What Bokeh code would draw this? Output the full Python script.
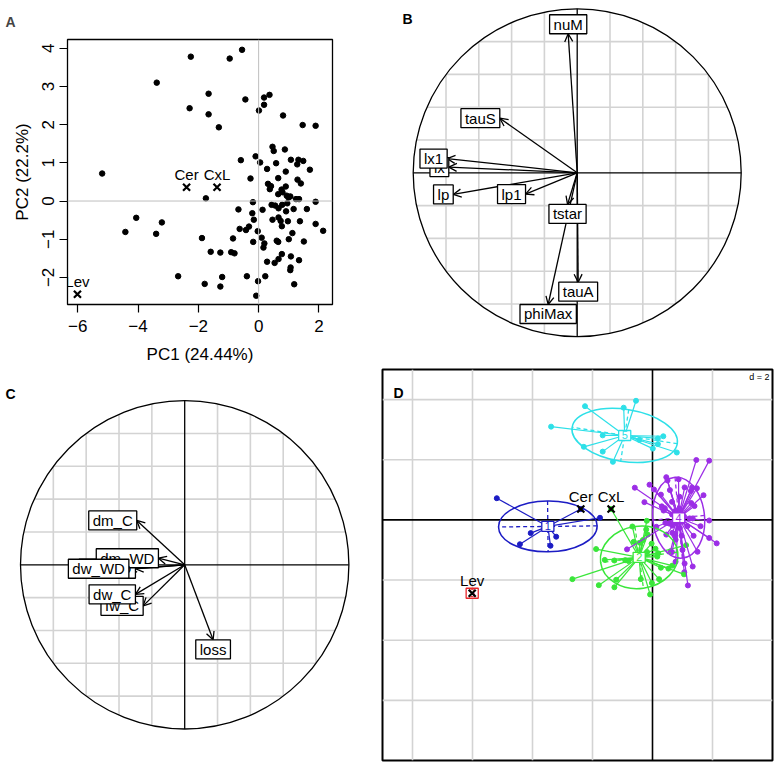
import numpy as np
from bokeh.plotting import figure
from bokeh.layouts import row, column
from bokeh.models import ColumnDataSource, Arrow, OpenHead, Range1d, FixedTicker, Label, Span
from bokeh.embed import file_html
from bokeh.resources import INLINE
from bokeh.core.properties import value

FONT = "Liberation Sans"

# ---------------- data: PCA scores (panels A and D) ----------------
pc1 = [-0.55, -2.25, -0.96, -3.38, -1.66, -0.44, 0.36, 0.18, 0.18, 0.01, -2.29, -1.66, 0.81, -1.32,
       1.46, 1.89, 0.46, 0.50, 0.87, -0.10, -0.59, 0.05, 0.58, 1.07, 1.32, 1.48, 1.28, 1.70, 0.28, 0.65,
       0.90, 1.29, 1.40, -0.27,
       -5.19, 0.31, 0.41, 0.37, 0.76, 0.90, 0.79, 0.93, 0.99, 1.05, 1.24, 1.34, 0.65, -1.75, -0.19, 1.89,
       -0.67, 0.13, 0.43, 0.55, 0.78, 0.95, 0.66, 0.91, 1.16, 1.60, -0.21, -0.16, 0.46, 0.66, 0.73, 0.97,
       1.37, 1.89, 2.14, -4.06, -3.21, -4.42, -3.40, -0.63, -0.42, -0.32, -0.03, 0.77, 1.12, 1.00, 1.50,
       0.10, -0.18, 0.19, 0.16, 0.60, 0.65, -0.85, -1.88, -1.59, -1.27, -0.91, -0.80, 0.28, 0.53, 0.66,
       0.77, 1.07, 1.34, 1.06, 1.05, 1.18, -2.67, -1.79, -1.27, -1.21, -0.39, 0.22, -0.02, -0.08]
pc2 = [3.96, 3.78, 3.73, 3.10, 2.81, 2.66, 2.78, 2.71, 2.52, 2.37, 2.43, 2.27, 2.24, 1.93,
       1.99, 1.97, 1.42, 1.31, 1.35, 1.17, 1.07, 1.01, 0.99, 1.08, 1.08, 1.05, 0.96, 0.82, 0.84, 0.60,
       0.77, 0.56, 0.46, 0.59,
       0.72, 0.45, 0.39, 0.31, 0.30, 0.38, 0.23, 0.14, 0.09, 0.12, 0.05, 0.05, 0.18, 0.07, -0.03, -0.02,
       -0.22, -0.23, -0.10, -0.12, -0.10, -0.06, -0.19, -0.27, -0.21, -0.21, -0.32, -0.49, -0.49, -0.43,
       -0.52, -0.53, -0.53, -0.60, -0.78, -0.44, -0.56, -0.81, -0.86, -0.73, -0.76, -0.67, -0.79, -0.66,
       -0.84, -1.00, -1.06, -0.96, -1.07, -1.11, -1.22, -1.04, -1.07, -0.98, -0.97, -1.33, -1.35, -1.34,
       -1.37, -1.59, -1.62, -1.52, -1.39, -1.45, -1.55, -1.74, -1.81, -2.18, -1.97, -2.17, -2.24, -1.99,
       -1.97, -1.97, -2.10, -2.48]
cluster = [5, 5, 5, 5, 5, 5, 5, 5, 5, 5, 5, 5, 5, 5,
           4, 4, 4, 4, 4, 4, 4, 4, 4, 4, 4, 4, 4, 4, 4, 4, 4, 4, 4, 4,
           1, 4, 4, 4, 4, 4, 4, 4, 4, 4, 4, 4, 4, 1, 2, 4,
           2, 4, 4, 4, 4, 4, 4, 4, 4, 4, 2, 2, 4, 4, 4, 4,
           4, 4, 4, 1, 1, 1, 1, 2, 2, 2, 2, 4,
           2, 4, 4, 2, 2, 2, 2, 4, 4, 4, 2, 2, 2, 2,
           2, 2, 2, 2, 4, 4, 4, 4, 2, 4, 2, 2, 2, 2,
           2, 2, 2, 2]

ref_names = ["Cer", "CxL", "Lev"]
ref_pc1 = [-2.39, -1.38, -6.01]
ref_pc2 = [0.36, 0.36, -2.44]
ref_cluster = [1, 2, 3]

pc1_ticks = [-6, -4, -2, 0, 2]
pc2_ticks = [-2, -1, 0, 1, 2, 3, 4]
pc1_label = "PC1 (24.44%)"
pc2_label = "PC2 (22.2%)"

# ---------------- data: correlation circle B ----------------
b_vars = ["lx", "lx1", "lp", "lp1", "tauS", "nuM", "tstar", "tauA", "phiMax"]
b_x = [-0.783, -0.793, -0.756, -0.315, -0.472, -0.055, -0.059, 0.006, -0.177]
b_y = [0.035, 0.087, -0.132, -0.130, 0.333, 0.848, -0.193, -0.667, -0.803]

# ---------------- data: correlation circle C ----------------
c_vars = ["fw_C", "dw_C", "dm_C", "fw_WD", "dm_WD", "dw_WD", "loss"]
c_x = [-0.253, -0.300, -0.292, -0.300, -0.160, -0.340, 0.173]
c_y = [-0.250, -0.180, 0.270, -0.024, 0.040, -0.024, -0.457]

# ---------------- classes (panel D) ----------------
class_ids = [1, 2, 3, 4, 5]
class_colors = ["#1c1cc4", "#3ae63a", "#e8262a", "#9c2ee6", "#2ee0e8"]

corr_grid = [-0.8, -0.6, -0.4, -0.2, 0.2, 0.4, 0.6, 0.8]
d_grid_x = [-8, -6, -4, -2, 2]
d_grid_y = [-6, -4, -2, 2, 4]


def panel_letter(p, x, y, dx, dy, letter):
    p.add_layout(Label(x=x, y=y, x_offset=dx, y_offset=dy, text=letter, text_font=FONT,
                       text_font_size="14px", text_font_style="bold", text_color="black",
                       text_align="left", text_baseline="alphabetic"))


# ================= Panel A =================
pA = figure(width=378, height=366, x_range=Range1d(-6.34, 2.45), y_range=Range1d(-2.71, 4.23),
            output_backend="svg", toolbar_location=None, frame_align=False,
            min_border_left=67, min_border_right=46, min_border_top=39, min_border_bottom=62)
pA.grid.visible = False
pA.outline_line_color = "black"
pA.outline_line_width = 1.3
pA.xaxis.ticker = FixedTicker(ticks=pc1_ticks)
pA.yaxis.ticker = FixedTicker(ticks=pc2_ticks)
for ax in (pA.xaxis[0], pA.yaxis[0]):
    ax.axis_line_color = None
    ax.major_tick_out = 8
    ax.major_tick_in = 0
    ax.minor_tick_line_color = None
    ax.major_tick_line_color = "black"
    ax.major_tick_line_width = 1.2
    ax.major_label_text_font = FONT
    ax.major_label_text_font_size = "17px"
    ax.major_label_text_color = "black"
    ax.axis_label_text_font = FONT
    ax.axis_label_text_font_size = "17px"
    ax.axis_label_text_font_style = "normal"
    ax.axis_label_text_color = "black"
pA.xaxis.axis_label = pc1_label
pA.yaxis.axis_label = pc2_label
pA.xaxis.major_label_standoff = 7
pA.yaxis.major_label_standoff = 5
pA.xaxis.axis_label_standoff = 10
pA.yaxis.axis_label_standoff = 8
pA.yaxis.major_label_orientation = "vertical"
pA.title.text = "A"
pA.title.align = "left"
pA.title.offset = -62
pA.title.text_font = FONT
pA.title.text_font_size = "14px"
pA.title.text_font_style = "bold"
pA.title.standoff = 19

pA.scatter(pc1, pc2, size=5.5, color="black")
pA.add_layout(Span(location=0, dimension="height", line_color="#bebebe", line_width=1))
pA.add_layout(Span(location=0, dimension="width", line_color="#bebebe", line_width=1))
pA.scatter(ref_pc1, ref_pc2, marker="x", size=10, line_width=2.2, line_color="black")
pA.text(ref_pc1, ref_pc2, text=ref_names, text_font=value(FONT), text_font_size="15px",
        text_align="center", text_baseline="middle", y_offset=-13, text_color="black")


# ================= correlation circles =================
def circ_anchor(x, y):
    if x > y and x > -y:
        return "center_left"
    if x > y and x <= -y:
        return "top_center"
    if x <= y and x <= -y:
        return "center_right"
    return "bottom_center"


def corr_fig(width, height, xr, yr, vx, vy, names):
    p = figure(width=width, height=height, x_range=Range1d(*xr), y_range=Range1d(*yr),
               output_backend="svg", toolbar_location=None, frame_align=False,
               x_axis_location=None, y_axis_location=None, min_border=0)
    p.min_border_left = 0
    p.min_border_right = 0
    p.min_border_top = 0
    p.min_border_bottom = 0
    p.grid.visible = False
    p.outline_line_color = None
    g = np.array(corr_grid)
    h = np.sqrt(1 - g ** 2)
    p.segment(x0=g, y0=-h, x1=g, y1=h, line_color="#d3d3d3", line_width=1.6, level="image")
    p.segment(x0=-h, y0=g, x1=h, y1=g, line_color="#d3d3d3", line_width=1.6, level="image")
    p.segment(x0=[-1, 0], y0=[0, -1], x1=[1, 0], y1=[0, 1], line_color="black",
              line_width=1.3, level="image")
    p.circle(x=[0], y=[0], radius=1, fill_color=None, line_color="black", line_width=1.3,
             level="image")
    n = len(vx)
    src = ColumnDataSource(dict(x0=[0] * n, y0=[0] * n, x1=vx, y1=vy))
    p.add_layout(Arrow(end=OpenHead(size=8, line_width=1.3, line_color="black"),
                       x_start="x0", y_start="y0", x_end="x1", y_end="y1", source=src,
                       line_width=1.3, line_color="black", level="underlay"))
    lsrc = ColumnDataSource(dict(x=vx, y=vy, t=names,
                                 a=[circ_anchor(a, b) for a, b in zip(vx, vy)]))
    p.text(x="x", y="y", text="t", anchor="a", source=lsrc, text_font=value(FONT),
           text_font_size="15px", text_color="black", text_align="center",
           text_baseline="middle", background_fill_color="white",
           border_line_color="black", border_line_width=1.3, padding=dict(x=4, y=1))
    return p


pB = corr_fig(399, 366, (-1.2116, 1.2213), (-1.1811, 1.0506), b_x, b_y, b_vars)
panel_letter(pB, -1.2116, 1.0506, 24, -18, "B")

pC = corr_fig(378, 399, (-1.1218, 1.1803), (-1.2223, 1.2077), c_x, c_y, c_vars)
panel_letter(pC, -1.1218, 1.2077, 5, -27, "C")

# ================= Panel D =================
pD = figure(width=399, height=399, x_range=Range1d(-9, 4), y_range=Range1d(-8, 5),
            output_backend="svg", toolbar_location=None, frame_align=False,
            x_axis_location=None, y_axis_location=None,
            min_border_left=4, min_border_right=5, min_border_top=3, min_border_bottom=5)
pD.grid.visible = False
pD.outline_line_color = "black"
pD.outline_line_width = 2
gx = np.array(d_grid_x, dtype=float)
gy = np.array(d_grid_y, dtype=float)
pD.segment(x0=gx, y0=[-8] * len(gx), x1=gx, y1=[5] * len(gx), line_color="#d3d3d3", line_width=1.6)
pD.segment(x0=[-9] * len(gy), y0=gy, x1=[4] * len(gy), y1=gy, line_color="#d3d3d3", line_width=1.6)
pD.segment(x0=[-9, 0], y0=[0, -8], x1=[4, 0], y1=[0, 5], line_color="black", line_width=1.6)

allx = np.array(pc1 + ref_pc1)
ally = np.array(pc2 + ref_pc2)
allc = np.array(cluster + ref_cluster)
col_of = dict(zip(class_ids, class_colors))

# points
pD.scatter(allx, ally, size=5, color=[col_of[c] for c in allc])

centers = {}
for k in class_ids:
    m = allc == k
    centers[k] = (allx[m].mean(), ally[m].mean())

# stars
for k in class_ids:
    m = allc == k
    cx, cy = centers[k]
    pD.segment(x0=[cx] * m.sum(), y0=[cy] * m.sum(), x1=allx[m], y1=ally[m],
               line_color=col_of[k], line_width=1.2)

# ellipses (1.5 sd) with their axes
for k in class_ids:
    m = allc == k
    if m.sum() < 2:
        continue
    cx, cy = centers[k]
    cov = np.cov(np.vstack([allx[m], ally[m]]), bias=True)
    vals, vecs = np.linalg.eigh(cov)
    a = 1.5 * np.sqrt(max(vals[1], 0))
    b = 1.5 * np.sqrt(max(vals[0], 0))
    u = vecs[:, 1]
    v = vecs[:, 0]
    ang = np.arctan2(u[1], u[0])
    pD.ellipse(x=[cx], y=[cy], width=[2 * a], height=[2 * b], angle=[ang],
               fill_color=None, line_color=col_of[k], line_width=1.5)
    pD.segment(x0=[cx - a * u[0], cx - b * v[0]], y0=[cy - a * u[1], cy - b * v[1]],
               x1=[cx + a * u[0], cx + b * v[0]], y1=[cy + a * u[1], cy + b * v[1]],
               line_color=col_of[k], line_width=1.3, line_dash="4 3")

# class labels
pD.text(x=[centers[k][0] for k in class_ids], y=[centers[k][1] for k in class_ids],
        text=[str(k) for k in class_ids], text_color=class_colors, border_line_color=class_colors,
        text_font=value(FONT), text_font_size="11px", text_align="center", text_baseline="middle",
        anchor="center", background_fill_color="white", border_line_width=1.3,
        padding=dict(x=3, y=1))

# reference lines
pD.scatter(ref_pc1, ref_pc2, marker="x", size=10, line_width=2.2, line_color="black")
pD.text(ref_pc1, ref_pc2, text=ref_names, text_font=value(FONT), text_font_size="15px",
        text_align="center", text_baseline="middle", y_offset=-13, text_color="black")

pD.add_layout(Label(x=4, y=5, x_offset=-3, y_offset=-2, text="d = 2", text_font=FONT,
                    text_font_size="9px", text_align="right", text_baseline="top",
                    background_fill_color="white", text_color="black"))
panel_letter(pD, -9, 5, 11, -23, "D")

layout = column(row(pA, pB), row(pC, pD))
open("out.html", "w").write(file_html(layout, INLINE))
